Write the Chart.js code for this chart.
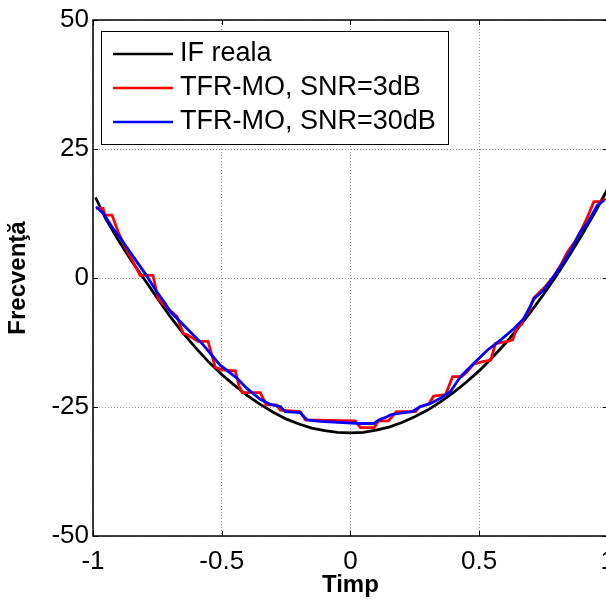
<!DOCTYPE html>
<html>
<head>
<meta charset="utf-8">
<script src="https://cdn.jsdelivr.net/npm/chart.js@4/dist/chart.umd.min.js"></script>
<style>
  html, body { margin: 0; padding: 0; background: #fff; overflow: hidden; }
  #wrap { position: relative; width: 625px; height: 601px; }
</style>
</head>
<body>
<div id="wrap"><canvas id="chart" width="625" height="601"></canvas></div>
<script>
const FONT = "'Liberation Sans', Arial, sans-serif";

const xTicks = [-1, -0.5, 0, 0.5, 1];
const yTicks = [-50, -25, 0, 25, 50];

const seriesLabels = ['IF reala', 'TFR-MO, SNR=3dB', 'TFR-MO, SNR=30dB'];
const seriesColors = ['#000000', '#ff0000', '#0000ff'];

const ifX = [-0.99, -0.95, -0.90, -0.85, -0.80, -0.75, -0.70, -0.65, -0.60, -0.55, -0.50,
  -0.45, -0.40, -0.35, -0.30, -0.25, -0.20, -0.15, -0.10, -0.05, 0, 0.05, 0.10, 0.15, 0.20,
  0.25, 0.30, 0.35, 0.40, 0.45, 0.50, 0.55, 0.60, 0.65, 0.70, 0.75, 0.80, 0.85, 0.90, 0.95, 1.00];
const ifY = [15.6, 11.4, 7.2, 3.3, -0.3, -3.9, -7.5, -10.7, -13.6, -16.3, -18.7,
  -20.8, -22.8, -24.5, -26.0, -27.3, -28.3, -29.1, -29.6, -29.9, -30.0, -29.9, -29.5, -28.9, -28.0,
  -26.9, -25.6, -24.0, -22.2, -20.2, -18.0, -15.5, -12.8, -9.8, -6.6, -3.2, 0.4, 4.3, 8.4, 12.7, 17.3];

const snr3X = [-0.988, -0.961, -0.953, -0.926, -0.903, -0.875, -0.848, -0.817, -0.767, -0.747,
  -0.732, -0.700, -0.673, -0.650, -0.634, -0.591, -0.553, -0.525, -0.498, -0.447, -0.432, -0.420,
  -0.350, -0.327, -0.288, -0.272, -0.195, -0.175, 0.019, 0.039, 0.093, 0.109, 0.148, 0.179, 0.253,
  0.268, 0.304, 0.323, 0.370, 0.397, 0.432, 0.451, 0.479, 0.514, 0.545, 0.564, 0.611, 0.630, 0.650,
  0.665, 0.677, 0.693, 0.712, 0.751, 0.790, 0.817, 0.844, 0.872, 0.903, 0.922, 0.946, 0.973, 0.992];
const snr3Y = [13.5, 13.5, 12.2, 12.2, 9.0, 6.0, 3.5, 0.5, 0.5, -4.0,
  -4.8, -6.3, -7.5, -10.7, -11.0, -12.3, -12.3, -17.3, -17.8, -18.0, -21.0, -22.2,
  -22.2, -24.6, -24.6, -25.6, -25.9, -27.5, -27.7, -29.0, -29.0, -27.7, -27.7, -25.9, -25.9,
  -25.0, -24.5, -22.9, -22.6, -19.1, -19.1, -18.3, -16.7, -16.2, -15.9, -12.7, -12.3, -12.0, -9.4,
  -9.0, -7.5, -6.5, -3.9, -2.0, 0.3, 2.5, 5.1, 7.0, 9.9, 11.9, 14.8, 14.8, 15.4];

const snr30X = [-0.988, -0.960, -0.922, -0.889, -0.843, -0.798, -0.752, -0.720, -0.700, -0.635,
  -0.571, -0.506, -0.441, -0.402, -0.350, -0.311, -0.272, -0.253, -0.195, -0.168, -0.117, 0.039,
  0.091, 0.110, 0.143, 0.156, 0.195, 0.240, 0.272, 0.311, 0.350, 0.389, 0.428, 0.480, 0.532, 0.584,
  0.636, 0.675, 0.714, 0.752, 0.784, 0.817, 0.856, 0.895, 0.927, 0.960, 0.986];
const snr30Y = [13.8, 12.5, 9.6, 7.4, 4.1, 0.9, -2.7, -4.9, -6.5, -9.8,
  -13.0, -16.9, -19.4, -21.4, -23.5, -24.5, -24.9, -25.9, -26.1, -27.5, -27.8, -28.2,
  -28.2, -27.5, -26.9, -26.5, -26.2, -25.9, -24.9, -24.3, -23.3, -22.0, -19.1, -16.5, -14.0, -12.0,
  -9.8, -7.8, -4.0, -2.3, -0.1, 2.2, 5.4, 9.0, 11.2, 14.1, 15.1];

const toPoints = (xs, ys) => xs.map((x, i) => ({ x, y: ys[i] }));

// axes box with inward ticks, plus the legend drawn inside the plot
const frameBox = {
  id: 'frameBox',
  afterDatasetsDraw(chart) {
    const { ctx, chartArea: a, scales } = chart;
    ctx.save();
    ctx.strokeStyle = '#000';
    ctx.lineWidth = 1.5;
    ctx.strokeRect(a.left, a.top, a.right - a.left, a.bottom - a.top);
    ctx.lineWidth = 1;
    ctx.beginPath();
    xTicks.forEach(v => {
      const px = Math.round(scales.x.getPixelForValue(v)) + 0.5;
      ctx.moveTo(px, a.bottom); ctx.lineTo(px, a.bottom - 5);
      ctx.moveTo(px, a.top); ctx.lineTo(px, a.top + 5);
    });
    yTicks.forEach(v => {
      const py = Math.round(scales.y.getPixelForValue(v)) + 0.5;
      ctx.moveTo(a.left, py); ctx.lineTo(a.left + 5, py);
      ctx.moveTo(a.right, py); ctx.lineTo(a.right - 5, py);
    });
    ctx.stroke();
    ctx.restore();
  },
  afterDraw(chart) {
    const { ctx } = chart;
    const box = { left: 101, top: 31, width: 347, height: 113 };
    ctx.save();
    ctx.fillStyle = '#fff';
    ctx.fillRect(box.left, box.top, box.width, box.height);
    ctx.strokeStyle = '#000';
    ctx.lineWidth = 1;
    ctx.strokeRect(box.left + 0.5, box.top + 0.5, box.width, box.height);
    ctx.font = '27px ' + FONT;
    ctx.textBaseline = 'middle';
    chart.data.datasets.forEach((ds, i) => {
      const y = 54 + i * 34;
      ctx.strokeStyle = ds.borderColor;
      ctx.lineWidth = 2.5;
      ctx.beginPath();
      ctx.moveTo(113, y); ctx.lineTo(173, y);
      ctx.stroke();
      ctx.fillStyle = '#000';
      ctx.fillText(ds.label, 180, y);
    });
    ctx.restore();
  }
};

new Chart(document.getElementById('chart'), {
  type: 'line',
  data: {
    datasets: [
      { label: seriesLabels[0], data: toPoints(ifX, ifY), borderColor: seriesColors[0], order: 3 },
      { label: seriesLabels[1], data: toPoints(snr3X, snr3Y), borderColor: seriesColors[1], order: 2 },
      { label: seriesLabels[2], data: toPoints(snr30X, snr30Y), borderColor: seriesColors[2], order: 1 },
    ],
  },
  options: {
    responsive: false,
    animation: false,
    elements: {
      point: { radius: 0 },
      line: { borderWidth: 2.8, tension: 0, fill: false },
    },
    layout: { padding: { top: 20, right: 9, left: 0, bottom: 0 } },
    plugins: { legend: { display: false }, tooltip: { enabled: false } },
    scales: {
      x: {
        type: 'linear',
        min: -1, max: 1,
        afterFit: s => { s.height = 65; },
        afterBuildTicks: s => { s.ticks = xTicks.map(v => ({ value: v })); },
        grid: { color: '#9a9a9a', drawTicks: false },
        border: { display: false, dash: [1, 2] },
        ticks: {
          color: '#000', padding: 10, autoSkip: false, maxRotation: 0,
          font: { family: FONT, size: 26 },
          callback: v => String(v),
        },
        title: {
          display: true, text: 'Timp', color: '#000', padding: { top: 4, bottom: 1 },
          font: { family: FONT, size: 24, weight: 'bold' },
        },
      },
      y: {
        type: 'linear',
        min: -50, max: 50,
        afterFit: s => { s.width = 93; },
        afterBuildTicks: s => { s.ticks = yTicks.map(v => ({ value: v })); },
        grid: { color: '#9a9a9a', drawTicks: false },
        border: { display: false, dash: [1, 2] },
        ticks: {
          color: '#000', padding: 4, autoSkip: false,
          font: { family: FONT, size: 26 },
          callback: v => String(v),
        },
        title: { display: true, text: 'Frecvenţă', color: '#000', font: { family: FONT, size: 24, weight: 'bold' } },
      },
    },
  },
  plugins: [frameBox],
});
</script>
</body>
</html>
